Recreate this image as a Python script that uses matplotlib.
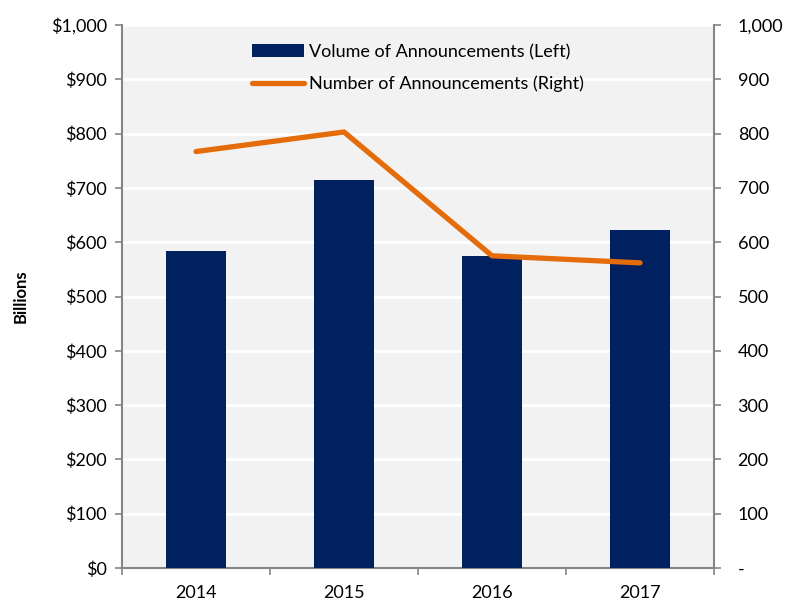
import numpy as np
import matplotlib.pyplot as plt
from matplotlib.ticker import FuncFormatter

years = ['2014', '2015', '2016', '2017']
volume = [583, 714, 575, 622]        # $ billions, left axis
number = [767, 803, 575, 562]        # count, right axis

navy = '#002060'
orange = '#E46C0A'
grey = '#868686'

plt.rcParams['font.family'] = ['Lato', 'DejaVu Sans']

fig = plt.figure(figsize=(7.89, 6.03), dpi=100)
ax = fig.add_axes([0.1546, 0.058, 0.7504, 0.9005])
ax.set_facecolor('#F2F2F2')

x = np.arange(len(years))
ax.bar(x, volume, width=0.4, color=navy, zorder=3, label='Volume of Announcements (Left)')
ax.set_xlim(-0.5, len(years) - 0.5)
ax.set_ylim(0, 1000)
ax.set_yticks(np.arange(0, 1001, 100))
ax.yaxis.set_major_formatter(FuncFormatter(lambda v, p: '${:,.0f}'.format(v)))
ax.grid(axis='y', color='white', linewidth=2, zorder=1)
ax.set_axisbelow(True)

ax.set_xticks(x)
ax.set_xticklabels(years)
ax.set_xticks(np.arange(-0.5, len(years)), minor=True)
ax.tick_params(axis='x', which='major', length=0, pad=12, labelsize=13)
ax.tick_params(axis='x', which='minor', length=5, color=grey, width=1.2)
ax.tick_params(axis='y', length=5, color=grey, width=1.2, labelsize=13, pad=6)
ax.set_ylabel('Billions', fontweight='bold', fontsize=12, labelpad=16)

ax2 = ax.twinx()
ax2.plot(x, number, color=orange, linewidth=3.8, solid_capstyle='round', zorder=4,
         label='Number of Announcements (Right)')
ax2.set_ylim(0, 1000)
ax2.set_yticks(np.arange(0, 1001, 100))
ax2.yaxis.set_major_formatter(FuncFormatter(lambda v, p: '-' if v == 0 else '{:,.0f}'.format(v)))
ax2.tick_params(axis='y', length=5, color=grey, width=1.2, labelsize=13, pad=12)

for a in (ax, ax2):
    for s in a.spines.values():
        s.set_visible(False)
ax.spines['left'].set_visible(True)
ax.spines['bottom'].set_visible(True)
ax2.spines['right'].set_visible(True)
for s in (ax.spines['left'], ax.spines['bottom'], ax2.spines['right']):
    s.set_color(grey)
    s.set_linewidth(1.5)

h1, l1 = ax.get_legend_handles_labels()
h2, l2 = ax2.get_legend_handles_labels()
ax2.legend(h1 + h2, l1 + l2, loc='upper center', bbox_to_anchor=(0.5, 0.995),
           frameon=False, fontsize=13, handlelength=2.9, handletextpad=0.25,
           labelspacing=0.85)

fig.savefig('out.png', dpi=100)
